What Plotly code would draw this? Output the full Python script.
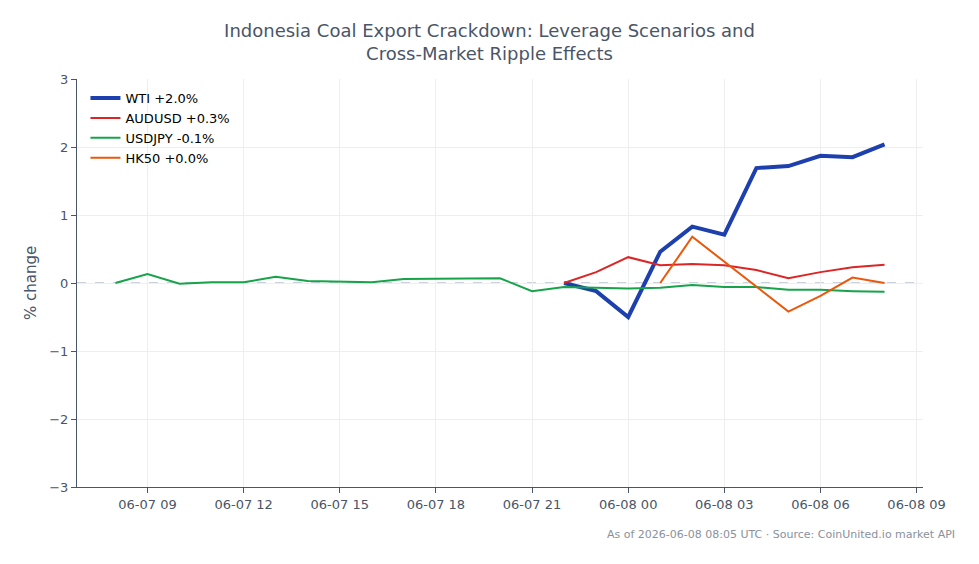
import plotly.graph_objects as go
import pandas as pd

times_all = pd.date_range("2026-06-07 08:00", "2026-06-08 08:00", freq="h")

usdjpy = [0.00, 0.13, -0.01, 0.01, 0.01, 0.09, 0.03, 0.02, 0.01, 0.06, 0.06, 0.07, 0.07,
          -0.12, -0.06, -0.07, -0.08, -0.07, -0.03, -0.06, -0.06, -0.10, -0.10, -0.12, -0.13]

times_wti = pd.date_range("2026-06-07 22:00", "2026-06-08 08:00", freq="h")
wti = [0.00, -0.12, -0.50, 0.46, 0.83, 0.71, 1.69, 1.72, 1.87, 1.85, 2.04]
audusd = [0.00, 0.16, 0.38, 0.26, 0.28, 0.26, 0.19, 0.07, 0.16, 0.23, 0.27]

times_hk = pd.to_datetime(["2026-06-08 01:00", "2026-06-08 02:00", "2026-06-08 05:00",
                           "2026-06-08 06:00", "2026-06-08 07:00", "2026-06-08 08:00"])
hk50 = [0.00, 0.68, -0.42, -0.19, 0.08, 0.00]

tick_vals = pd.date_range("2026-06-07 09:00", "2026-06-08 09:00", freq="3h")
tick_text = [t.strftime("%m-%d %H") for t in tick_vals]

font_main = "DejaVu Sans, Verdana, sans-serif"
txt = "#4a5568"

fig = go.Figure()
fig.add_trace(go.Scatter(x=times_wti, y=wti, mode="lines", name="WTI +2.0%",
                         line=dict(color="#1e40af", width=4)))
fig.add_trace(go.Scatter(x=times_wti, y=audusd, mode="lines", name="AUDUSD +0.3%",
                         line=dict(color="#dc2626", width=2)))
fig.add_trace(go.Scatter(x=times_all, y=usdjpy, mode="lines", name="USDJPY -0.1%",
                         line=dict(color="#16a34a", width=2)))
fig.add_trace(go.Scatter(x=times_hk, y=hk50, mode="lines", name="HK50 +0.0%",
                         line=dict(color="#ea580c", width=2)))

fig.add_hline(y=0, line=dict(color="#94a3b8", width=1, dash="dash"), layer="below")

fig.update_layout(
    width=979, height=564,
    margin=dict(l=77, r=56, t=79, b=77),
    paper_bgcolor="white", plot_bgcolor="white",
    font=dict(family=font_main, size=13, color=txt),
    title=dict(text="Indonesia Coal Export Crackdown: Leverage Scenarios and<br>Cross-Market Ripple Effects",
               x=0.5, xanchor="center", y=0.935, yanchor="top",
               font=dict(family=font_main, size=18, color=txt)),
    legend=dict(x=0.01, y=0.99, xanchor="left", yanchor="top", bgcolor="rgba(0,0,0,0)",
                font=dict(size=13, color="black")),
    showlegend=True,
)
fig.update_xaxes(
    range=[pd.Timestamp("2026-06-07 06:48"), pd.Timestamp("2026-06-08 09:12")],
    tickvals=tick_vals, ticktext=tick_text,
    showgrid=True, gridcolor="#eceef1", showline=True, linecolor=txt, linewidth=1,
    ticks="outside", tickcolor=txt, ticklen=5, zeroline=False,
)
fig.update_yaxes(
    range=[-3, 3], tickvals=[-3, -2, -1, 0, 1, 2, 3],
    ticktext=["\u22123", "\u22122", "\u22121", "0", "1", "2", "3"],
    showgrid=True, gridcolor="#eceef1", showline=True, linecolor=txt, linewidth=1,
    ticks="outside", tickcolor=txt, ticklen=5, zeroline=False,
)
fig.add_annotation(text="% change", textangle=-90, xref="paper", yref="paper",
                   x=-0.0544, y=0.5, xanchor="center", yanchor="middle",
                   showarrow=False, font=dict(size=15, color=txt))
fig.add_annotation(text="As of 2026-06-08 08:05 UTC · Source: CoinUnited.io market API",
                   xref="paper", yref="paper", x=1.04, y=-0.095, xanchor="right", yanchor="top",
                   showarrow=False, font=dict(size=11, color="#8a919c"))

fig.write_html("out.html")
